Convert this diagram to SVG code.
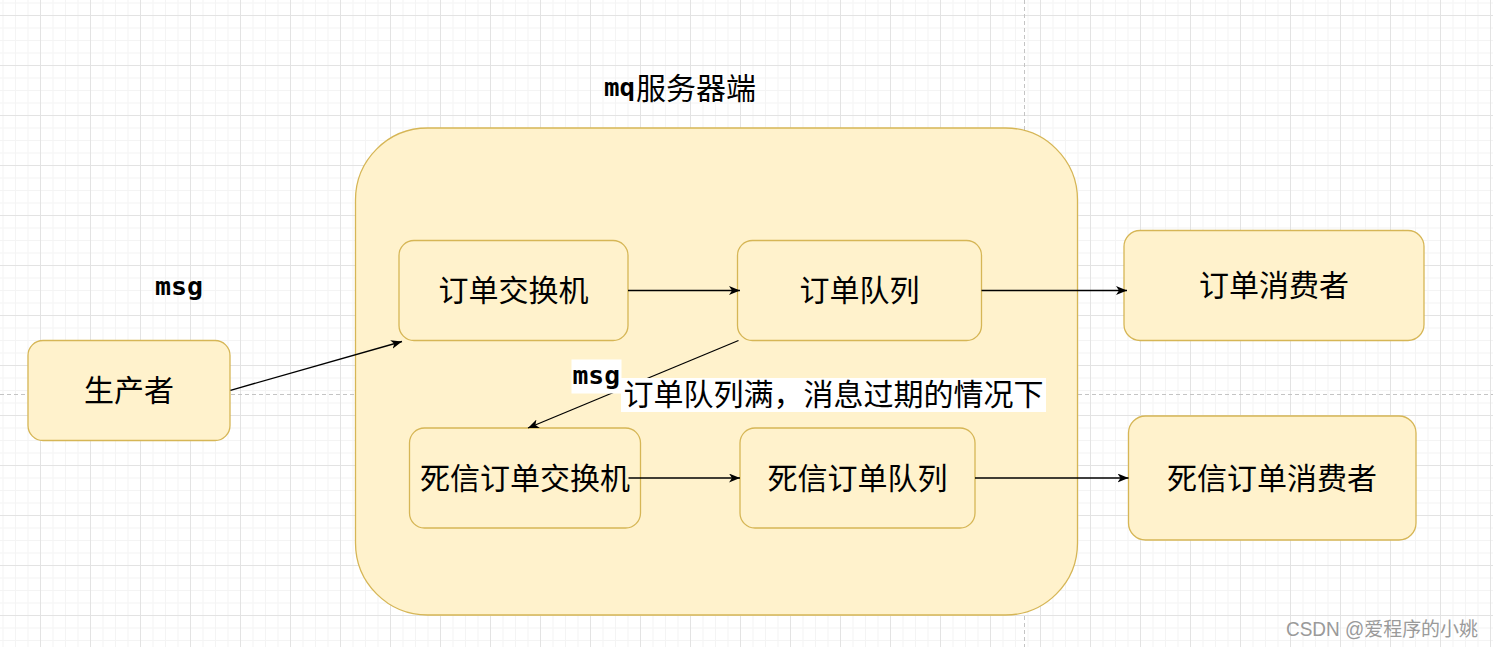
<svg xmlns="http://www.w3.org/2000/svg" width="1493" height="647" viewBox="0 0 1493 647">
  <style>
    .node rect { fill: #fff2cc; stroke: #d6b656; stroke-width: 1.3; }
    .lbl { font-family: 'Noto Sans CJK SC', sans-serif; font-size: 30px; fill: #000; text-anchor: middle; }
    .mono { font-family: 'DejaVu Sans Mono', 'Liberation Mono', monospace; font-weight: bold; font-size: 24px; fill: #000; }
    .edge { stroke: #000; stroke-width: 1.3; fill: none; marker-end: url(#arr); }
    .pb { stroke: #c4c4c4; stroke-width: 1; stroke-dasharray: 4 3; fill: none; }
  </style>
  <defs>
    <pattern id="grid" x="40" y="15" width="50" height="50" patternUnits="userSpaceOnUse">
      <rect x="12.5" y="0" width="1" height="50" fill="#f4f4f4"/>
      <rect x="25" y="0" width="1" height="50" fill="#f4f4f4"/>
      <rect x="37.5" y="0" width="1" height="50" fill="#f4f4f4"/>
      <rect x="0" y="12.5" width="50" height="1" fill="#f4f4f4"/>
      <rect x="0" y="25" width="50" height="1" fill="#f4f4f4"/>
      <rect x="0" y="37.5" width="50" height="1" fill="#f4f4f4"/>
      <rect x="0" y="0" width="1" height="50" fill="#e3e3e3"/>
      <rect x="0" y="0" width="50" height="1" fill="#e3e3e3"/>
    </pattern>
    <marker id="arr" markerUnits="userSpaceOnUse" markerWidth="12" markerHeight="10" refX="11" refY="4.5" orient="auto">
      <path d="M0,0 L11,4.5 L0,9 L3,4.5 Z" fill="#000"/>
    </marker>
  </defs>

  <rect x="0" y="0" width="1493" height="647" fill="#ffffff"/>
  <rect x="0" y="0" width="1493" height="647" fill="url(#grid)"/>
  <line class="pb" x1="1024.5" y1="0" x2="1024.5" y2="647"/>
  <line class="pb" x1="0" y1="394.5" x2="1493" y2="394.5"/>

  <g id="mq-server" class="node">
    <rect x="355.5" y="128" width="722" height="487" rx="72" ry="72"/>
    <text class="mono" x="604" y="96" textLength="31" lengthAdjust="spacingAndGlyphs">mq</text>
    <text class="lbl" x="636" y="99" style="text-anchor:start">服务器端</text>
  </g>

  <g id="producer" class="node">
    <rect x="28" y="340.5" width="202" height="100" rx="15" ry="15"/>
    <text class="lbl" x="129" y="401">生产者</text>
  </g>

  <g id="order-exchange" class="node">
    <rect x="399" y="240.5" width="229" height="100" rx="15" ry="15"/>
    <text class="lbl" x="513.5" y="301">订单交换机</text>
  </g>

  <g id="order-queue" class="node">
    <rect x="737.5" y="240.5" width="244" height="100" rx="15" ry="15"/>
    <text class="lbl" x="859.5" y="301">订单队列</text>
  </g>

  <g id="order-consumer" class="node">
    <rect x="1124" y="230.5" width="300" height="110" rx="16" ry="16"/>
    <text class="lbl" x="1274" y="296">订单消费者</text>
  </g>

  <g id="dead-exchange" class="node">
    <rect x="409.5" y="428" width="231" height="100" rx="15" ry="15"/>
    <text class="lbl" x="525" y="489">死信订单交换机</text>
  </g>

  <g id="dead-queue" class="node">
    <rect x="740" y="428" width="235" height="100" rx="15" ry="15"/>
    <text class="lbl" x="857.5" y="489">死信订单队列</text>
  </g>

  <g id="dead-consumer" class="node">
    <rect x="1128.5" y="416" width="287.5" height="124" rx="17" ry="17"/>
    <text class="lbl" x="1272" y="489">死信订单消费者</text>
  </g>

  <g id="connectors">
    <line class="edge" x1="230.5" y1="390.3" x2="402" y2="341.5"/>
    <line class="edge" x1="628" y1="290.5" x2="740" y2="290.5"/>
    <line class="edge" x1="981.5" y1="290.5" x2="1127" y2="290.5"/>
    <line class="edge" x1="738.5" y1="340.5" x2="528" y2="428"/>
    <line class="edge" x1="628.5" y1="478" x2="740" y2="478"/>
    <line class="edge" x1="975" y1="478" x2="1128.5" y2="478"/>
  </g>

  <g id="labels">
    <text class="mono" x="155" y="295" textLength="48" lengthAdjust="spacingAndGlyphs">msg</text>
    <rect x="571.5" y="359.5" width="50" height="34" fill="#ffffff"/>
    <text class="mono" x="572.5" y="383.5" textLength="47.5" lengthAdjust="spacingAndGlyphs">msg</text>
    <rect x="621" y="378" width="425" height="34" fill="#ffffff"/>
    <text class="lbl" x="833.5" y="404.5">订单队列满，消息过期的情况下</text>
  </g>

  <text x="1286" y="636" font-family="'Liberation Sans', 'Noto Sans CJK SC', sans-serif" font-size="19.5" fill="#9a9a9a" textLength="192" lengthAdjust="spacingAndGlyphs">CSDN @爱程序的小姚</text>
</svg>
